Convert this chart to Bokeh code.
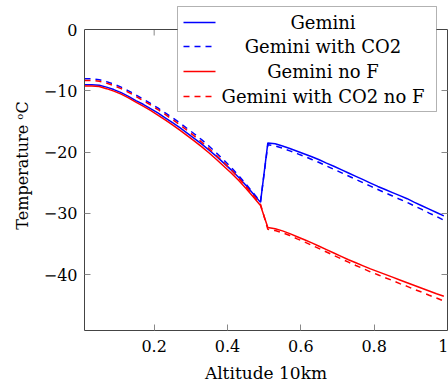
from bokeh.plotting import figure
from bokeh.models import (LinearAxis, FixedTicker, BoxAnnotation, Arrow, Label,
                          Range1d, CustomJSTickFormatter, Span)
from bokeh.embed import file_html
from bokeh.resources import INLINE

# ---- data -------------------------------------------------------------
altitude = [0.01, 0.03, 0.05, 0.07, 0.09, 0.11, 0.13, 0.15, 0.17, 0.19,
            0.21, 0.23, 0.25, 0.27, 0.29, 0.31, 0.33, 0.35, 0.37, 0.39,
            0.41, 0.43, 0.45, 0.47, 0.49, 0.51, 0.53, 0.55, 0.57, 0.59,
            0.61, 0.63, 0.65, 0.67, 0.69, 0.71, 0.73, 0.75, 0.77, 0.79,
            0.81, 0.83, 0.85, 0.87, 0.89, 0.91, 0.93, 0.95, 0.97, 0.99]

gemini = [-9.0, -9.0, -9.1, -9.4, -9.8, -10.3, -10.9, -11.6, -12.2, -12.9,
          -13.6, -14.4, -15.2, -16.0, -16.9, -17.8, -18.7, -19.7, -20.7, -21.8,
          -22.9, -24.1, -25.4, -26.8, -28.2, -18.5, -18.65, -19.0, -19.4, -19.85,
          -20.3, -20.75, -21.25, -21.8, -22.3, -22.85, -23.4, -23.95, -24.5, -25.05,
          -25.6, -26.1, -26.6, -27.1, -27.6, -28.2, -28.75, -29.3, -29.85, -30.4]

gemini_co2 = [-8.05, -8.05, -8.2, -8.5, -8.9, -9.4, -10.0, -10.65, -11.35, -12.05,
              -12.8, -13.6, -14.4, -15.25, -16.15, -17.05, -18.0, -19.05, -20.15, -21.3,
              -22.5, -23.8, -25.2, -26.65, -28.1, -18.8, -19.0, -19.35, -19.8, -20.25,
              -20.7, -21.2, -21.7, -22.25, -22.8, -23.35, -23.9, -24.45, -25.0, -25.55,
              -26.1, -26.65, -27.15, -27.7, -28.2, -28.8, -29.35, -29.95, -30.5, -31.1]

gemini_nof = [-9.2, -9.2, -9.3, -9.65, -10.05, -10.55, -11.15, -11.85, -12.5, -13.2,
              -13.95, -14.75, -15.55, -16.4, -17.3, -18.2, -19.15, -20.15, -21.2, -22.3,
              -23.4, -24.6, -25.9, -27.3, -28.7, -32.3, -32.5, -32.85, -33.3, -33.8,
              -34.3, -34.8, -35.35, -35.9, -36.45, -37.0, -37.55, -38.05, -38.55, -39.05,
              -39.5, -39.95, -40.4, -40.85, -41.3, -41.75, -42.2, -42.65, -43.1, -43.5]

gemini_co2_nof = [-8.3, -8.3, -8.45, -8.75, -9.15, -9.65, -10.25, -10.9, -11.6, -12.3,
                  -13.05, -13.85, -14.7, -15.55, -16.45, -17.4, -18.4, -19.45, -20.55, -21.7,
                  -22.9, -24.2, -25.6, -27.05, -28.5, -32.6, -32.8, -33.15, -33.6, -34.15,
                  -34.65, -35.2, -35.75, -36.3, -36.85, -37.4, -37.95, -38.5, -39.0, -39.55,
                  -40.0, -40.5, -40.95, -41.45, -41.9, -42.4, -42.85, -43.35, -43.8, -44.3]

series_names = ["Gemini", "Gemini with CO2", "Gemini no F", "Gemini with CO2 no F"]
x_ticks = [0.2, 0.4, 0.6, 0.8, 1.0]
y_ticks = [0, -10, -20, -30, -40]
x_lim = (0.01, 1.0)
y_lim = (-49.1, 0.0)

# ---- styles / layout --------------------------------------------------
FONT = "DejaVu Serif"
AX = "#444444"
TICK = "#888888"
series = [(gemini, "#0000ff", "solid"),
          (gemini_co2, "#0000ff", "6 5"),
          (gemini_nof, "#ff0000", "solid"),
          (gemini_co2_nof, "#ff0000", "6 5")]

W, H = 448, 386
BL, BR, BB = 84, 1, 56          # borders (frame reaches the canvas top)
AXES_TOP = 29                   # pixel row of the upper edge of the axis box
frame_h = H - BB
px_per_unit = (frame_h - AXES_TOP) / (y_lim[1] - y_lim[0])
y_top = y_lim[1] + AXES_TOP / px_per_unit
TICK_LEN = 6

p = figure(width=W, height=H, x_range=Range1d(*x_lim),
           y_range=Range1d(y_lim[0], y_top), output_backend="svg",
           toolbar_location=None, min_border_left=BL, min_border_right=BR,
           min_border_top=0, min_border_bottom=BB)
p.grid.visible = False
p.outline_line_color = None
p.background_fill_color = "white"
p.border_fill_color = "white"

fmt = CustomJSTickFormatter(code="return tick < 0 ? '\u2212' + Math.abs(tick) : tick.toString();")

for ax, ticks in ((p.xaxis[0], x_ticks), (p.yaxis[0], y_ticks)):
    ax.ticker = FixedTicker(ticks=ticks)
    ax.formatter = fmt
    ax.major_tick_in = TICK_LEN
    ax.major_tick_out = 0
    ax.minor_tick_line_color = None
    ax.major_tick_line_color = TICK
    ax.axis_line_color = AX
    ax.major_label_text_font = FONT
    ax.major_label_text_font_size = "16px"
    ax.major_label_text_color = "black"
    ax.axis_label_text_font = FONT
    ax.axis_label_text_font_style = "normal"
    ax.axis_label_text_color = "black"

p.yaxis.bounds = y_lim
p.xaxis.axis_label = "Altitude 10km"
p.xaxis.axis_label_text_font_size = "17px"
p.xaxis.major_label_standoff = 9
p.xaxis.axis_label_standoff = 8
p.yaxis.axis_label = "Temperature \u1d52C"
p.yaxis.axis_label_text_font_size = "16px"
p.yaxis.major_label_standoff = 7
p.yaxis.axis_label_standoff = 9

right = LinearAxis(ticker=FixedTicker(ticks=y_ticks), bounds=y_lim,
                   major_tick_in=TICK_LEN, major_tick_out=0,
                   minor_tick_line_color=None, major_tick_line_color=TICK,
                   axis_line_color=AX, major_label_standoff=0,
                   formatter=CustomJSTickFormatter(code="return '';"),
                   major_label_text_color=None)
p.add_layout(right, "right")

# upper edge of the axis box and its inward ticks
p.add_layout(Span(location=y_lim[1], dimension="width", line_color=AX, line_width=1))
p.segment(x0=x_ticks, y0=[y_lim[1]] * len(x_ticks), x1=x_ticks,
          y1=[y_lim[1] - TICK_LEN / px_per_unit] * len(x_ticks),
          line_color=TICK, line_width=1)

for (ys, color, dash) in series:
    p.line(altitude, ys, line_color=color, line_width=1.5, line_dash=dash)

# ---- legend (centered labels) -----------------------------------------
box = BoxAnnotation(left=93, right=352, top=frame_h - 6, bottom=frame_h - 111,
                    left_units="screen", right_units="screen",
                    top_units="screen", bottom_units="screen",
                    fill_color="white", fill_alpha=1.0,
                    line_color="black", line_width=1)
p.add_layout(box)
row_y = [frame_h - 22, frame_h - 46, frame_h - 71, frame_h - 96]
for (ys, color, dash), name, yy in zip(series, series_names, row_y):
    p.add_layout(Arrow(x_start=99, y_start=yy, x_end=131, y_end=yy,
                       start_units="screen", end_units="screen",
                       start=None, end=None, line_color=color,
                       line_width=1.5, line_dash=dash))
    p.add_layout(Label(x=238.5, y=yy, x_units="screen", y_units="screen",
                       text=name, text_align="center", text_baseline="middle",
                       text_font=FONT, text_font_size="18px",
                       text_color="black"))

open("out.html", "w").write(file_html(p, INLINE))
